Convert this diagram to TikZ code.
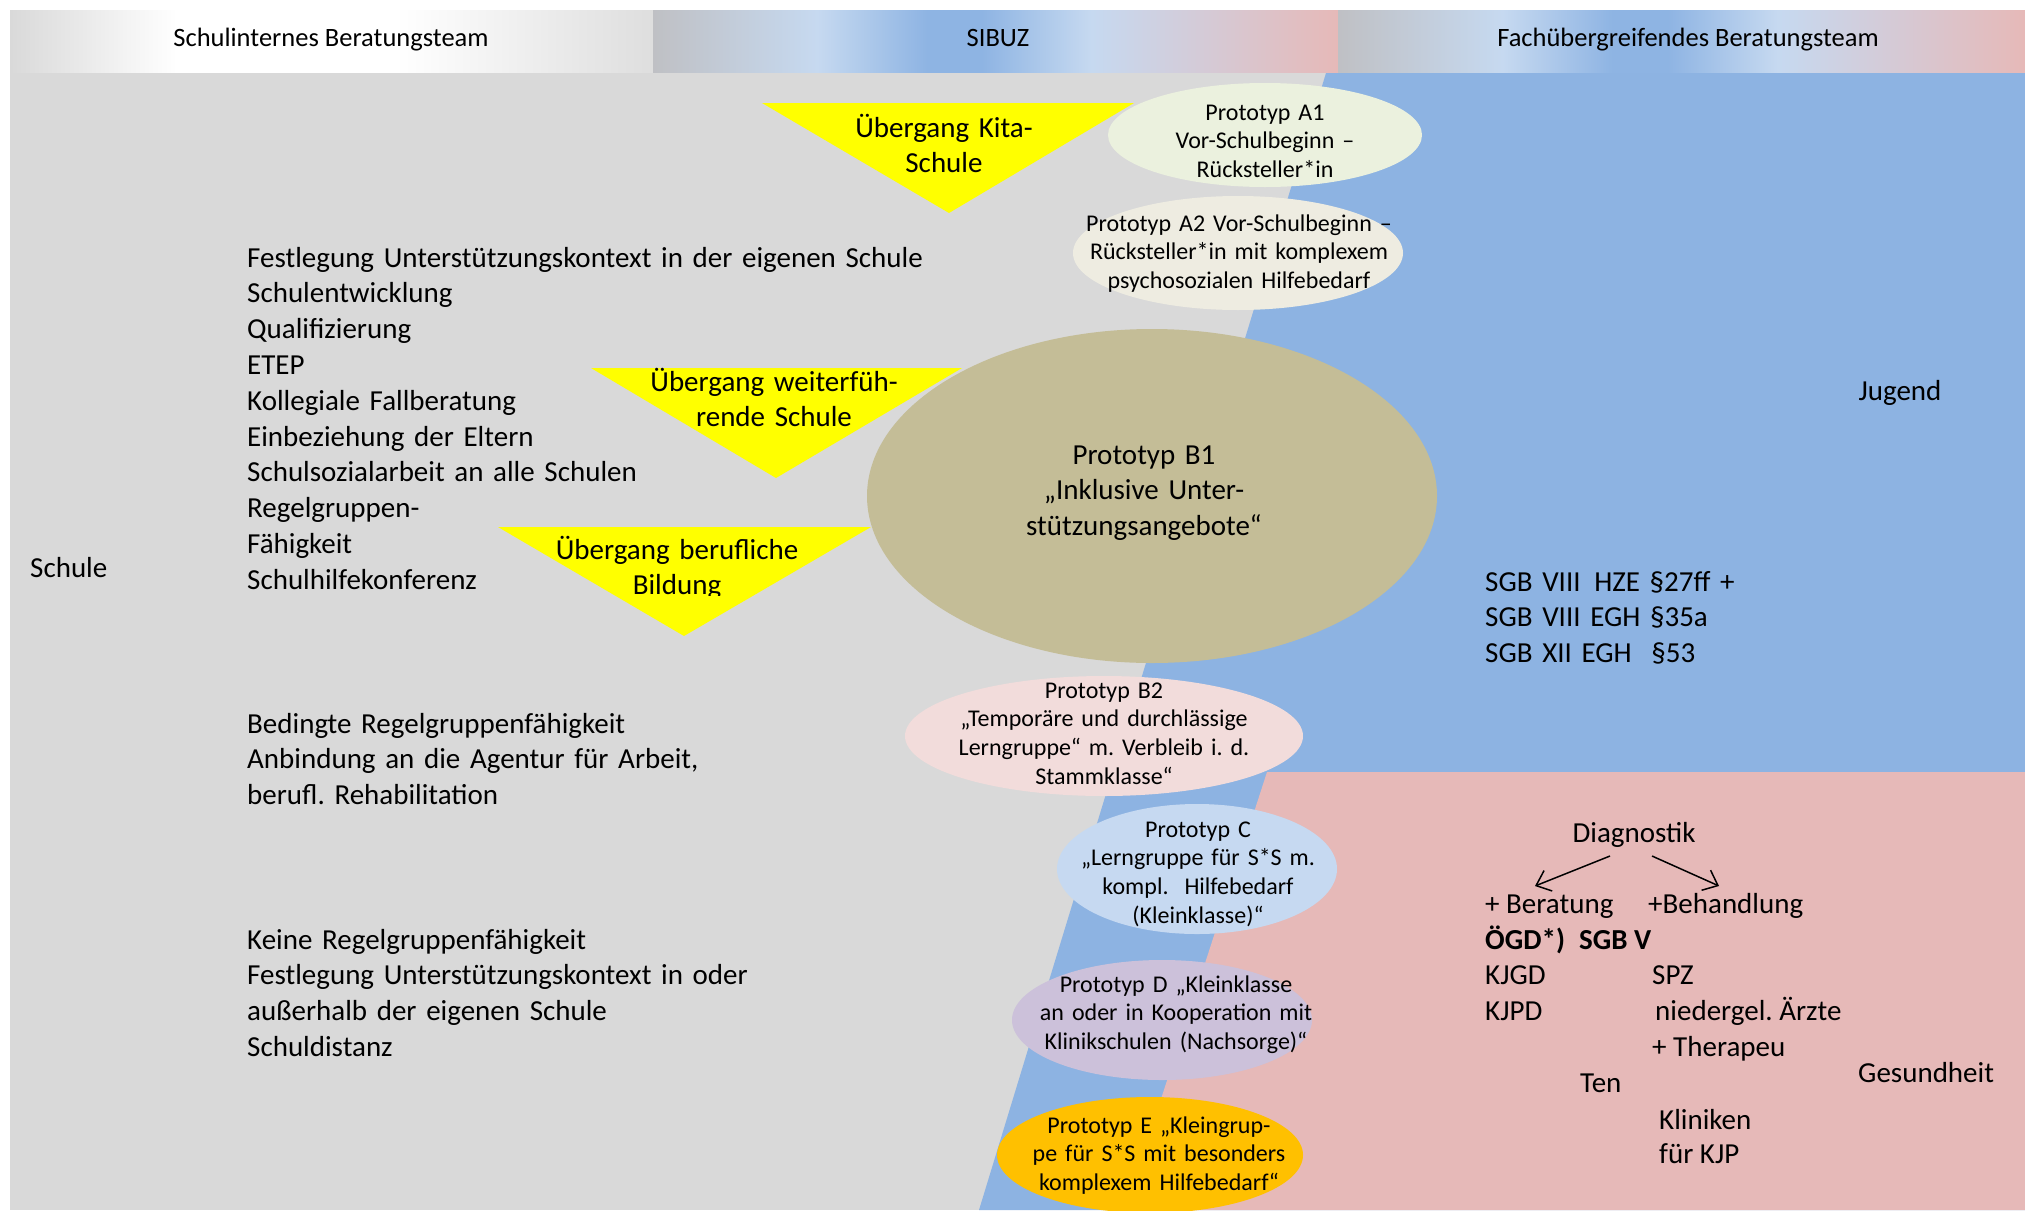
\documentclass[tikz,border=0pt]{standalone}
\usepackage{fontspec}
\setmainfont{Carlito}
\usetikzlibrary{arrows.meta,shapes.geometric}

\definecolor{bggrey}{HTML}{D9D9D9}
\definecolor{jblue}{HTML}{8DB3E2}
\definecolor{gpink}{HTML}{E6B9B8}
\definecolor{hgrey}{HTML}{BFC0C4}
\definecolor{hlblue}{HTML}{C6D9F0}
\definecolor{hblue}{HTML}{8EB4E3}
\definecolor{hpink}{HTML}{E6B9B8}
\definecolor{hlgrey}{HTML}{DEDEDE}
\definecolor{tyellow}{HTML}{FFFF00}
\definecolor{cAone}{HTML}{EBF1DE}
\definecolor{cAtwo}{HTML}{EEECE1}
\definecolor{cBone}{HTML}{C4BD97}
\definecolor{cBtwo}{HTML}{F2DCDB}
\definecolor{cC}{HTML}{C6D9F1}
\definecolor{cD}{HTML}{CCC1DA}
\definecolor{cE}{HTML}{FFC000}

\pgfdeclarehorizontalshading{hdrmix}{100bp}{color(0bp)=(hgrey); color(25bp)=(hgrey); color(37bp)=(hlblue); color(45bp)=(hblue); color(49bp)=(hblue); color(57bp)=(hlblue); color(75bp)=(hpink); color(100bp)=(hpink)}
\pgfdeclarehorizontalshading{hdrleft}{100bp}{color(0bp)=(bggrey); color(25bp)=(bggrey); color(38bp)=(white); color(55bp)=(white); color(75bp)=(hlgrey); color(100bp)=(hlgrey)}

\tikzset{
  bodytxt/.style={font=\fontsize{29}{35.8}\selectfont, inner sep=0pt, text width=900pt, align=left, anchor=base west},
  linetxt/.style={font=\fontsize{29}{35.8}\selectfont, inner sep=0pt, anchor=base west},
  boldtxt/.style={font=\fontsize{29}{35.8}\selectfont\bfseries, inner sep=0pt, anchor=base west},
  ctrtxt/.style={font=\fontsize{29}{35.8}\selectfont, inner sep=0pt, text width=420pt, align=center, anchor=base},
  smalltxt/.style={font=\fontsize{24}{28.8}\selectfont, inner sep=0pt, text width=420pt, align=center, anchor=base},
  hdrtxt/.style={font=\fontsize{26.5}{30}\selectfont, inner sep=0pt, anchor=base},
  bigctr/.style={font=\fontsize{29}{35.8}\selectfont, inner sep=0pt, anchor=base},
  proto/.style={ellipse, draw=none, inner sep=0pt},
  arr/.style={-{Straight Barb[length=13pt,width=22pt]}, line width=1.5pt}
}

\begin{document}
\frenchspacing
\begin{tikzpicture}[x=1pt,y=-1pt]
\useasboundingbox (0,0) rectangle (2025,1210);
\fill[white] (0,0) rectangle (2025,1210);

% header bands
\shade[shading=hdrleft] (10,10) rectangle (653,73);
\shade[shading=hdrmix] (653,10) rectangle (1338,73);
\shade[shading=hdrmix] (1338,10) rectangle (2025,73);
\node[hdrtxt] (h1) at (331,46) {Schulinternes Beratungsteam};
\node[hdrtxt] (h2) at (998,46) {SIBUZ};
\node[hdrtxt] (h3) at (1688,46) {Fachübergreifendes Beratungsteam};

% body areas
\fill[bggrey] (10,73) rectangle (2025,1210);
\fill[jblue] (1326,73) -- (2025,73) -- (2025,1210) -- (979,1210) -- cycle;
\fill[gpink] (1267,772) -- (2025,772) -- (2025,1210) -- (1125,1210) -- cycle;

% transition triangles
\fill[tyellow] (762,103) -- (1134,103) -- (949,213) -- cycle;
\fill[tyellow] (591,368) -- (962,368) -- (776,478) -- cycle;
\fill[tyellow] (498,527) -- (871,527) -- (684,636) -- cycle;
\node[ctrtxt] (t1) at (944,137) {Übergang Kita-\\Schule};
\node[ctrtxt] (t2) at (774,391) {Übergang weiterfüh-\\rende Schule};
\begin{scope}
  \clip (450,500) rectangle (900,595);
  \node[ctrtxt] (t3) at (677,559) {Übergang berufliche\\Bildung};
\end{scope}

% prototype ellipses
\node[proto, fill=cAone, minimum width=314pt, minimum height=104pt] (a1) at (1265,135) {};
\node[proto, fill=cAtwo, minimum width=330pt, minimum height=114pt] (a2) at (1238,253) {};
\node[proto, fill=cBone, minimum width=570pt, minimum height=334pt] (b1) at (1152,496) {};
\node[proto, fill=cBtwo, minimum width=398pt, minimum height=120pt] (b2) at (1104,736) {};
\node[proto, fill=cC, minimum width=280pt, minimum height=130pt] (c) at (1197,869) {};
\node[proto, fill=cD, minimum width=300pt, minimum height=120pt] (d) at (1162,1020) {};
\node[proto, fill=cE, minimum width=306pt, minimum height=116pt] (e) at (1150,1155) {};

\node[smalltxt] (a1t) at (1265,120) {Prototyp A1\\Vor-Schulbeginn –\\Rücksteller*in};
\node[smalltxt] (a2t) at (1239,231) {Prototyp A2 Vor-Schulbeginn –\\Rücksteller*in mit komplexem\\psychosozialen Hilfebedarf};
\node[ctrtxt] (b1t) at (1144,464) {Prototyp B1\\„Inklusive Unter-\\stützungsangebote“};
\node[smalltxt] (b2t) at (1104,698) {Prototyp B2\\„Temporäre und durchlässige\\Lerngruppe“ m. Verbleib i. d.\\Stammklasse“};
\node[smalltxt] (ct) at (1198,837) {Prototyp C\\„Lerngruppe für S*S m.\\kompl.\ \ Hilfebedarf\\(Kleinklasse)“};
\node[smalltxt] (dt) at (1176,992) {Prototyp D „Kleinklasse\\an oder in Kooperation mit\\Klinikschulen (Nachsorge)“};
\node[smalltxt] (et) at (1159,1133) {Prototyp E „Kleingrup-\\pe für S*S mit besonders\\komplexem Hilfebedarf“};

% left column
\node[linetxt] (schule) at (30,577) {Schule};
\node[bodytxt] (l1) at (247,267) {Festlegung Unterstützungskontext in der eigenen Schule\\Schulentwicklung\\Qualifizierung\\ETEP\\Kollegiale Fallberatung\\Einbeziehung der Eltern\\Schulsozialarbeit an alle Schulen\\Regelgruppen-\\Fähigkeit\\Schulhilfekonferenz};
\node[bodytxt] (l2) at (247,733) {Bedingte Regelgruppenfähigkeit\\Anbindung an die Agentur für Arbeit,\\berufl. Rehabilitation};
\node[bodytxt] (l3) at (247,949) {Keine Regelgruppenfähigkeit\\Festlegung Unterstützungskontext in oder\\außerhalb der eigenen Schule\\Schuldistanz};

% youth area
\node[bigctr] (jugend) at (1900,400) {Jugend};
\node[bodytxt, text width=400pt] (sgb) at (1485,591) {SGB VIII\hspace{4pt} HZE §27ff +\\SGB VIII EGH §35a\\SGB XII EGH\hspace{10pt} §53};

% health area
\node[bigctr] (diag) at (1634,842) {Diagnostik};
\node[linetxt] (ber) at (1485,913) {+ Beratung};
\node[linetxt] (beh) at (1648,913) {+Behandlung};
\node[boldtxt] (ogd) at (1485,949) {ÖGD*)};
\node[boldtxt] (sgbv) at (1579,949) {SGB V};
\node[linetxt] (kjgd) at (1485,984) {KJGD};
\node[linetxt] (spz) at (1652,984) {SPZ};
\node[linetxt] (kjpd) at (1485,1020) {KJPD};
\node[linetxt] (arzt) at (1655,1020) {niedergel. Ärzte};
\node[linetxt] (ther) at (1652,1056) {+ Therapeu};
\node[linetxt] (ten) at (1580,1092) {Ten};
\node[linetxt] (ges) at (1858,1082) {Gesundheit};
\node[linetxt] (klin) at (1659,1129) {Kliniken};
\node[linetxt] (fkjp) at (1659,1163) {für KJP};

\coordinate (dl1) at (1610,856);
\coordinate (dl2) at (1535,886);
\coordinate (dr1) at (1652,856);
\coordinate (dr2) at (1719,886);
\draw[arr] (dl1) -- (dl2);
\draw[arr] (dr1) -- (dr2);
\end{tikzpicture}
\end{document}
